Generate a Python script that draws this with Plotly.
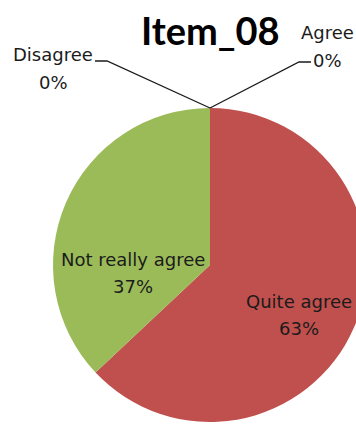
import plotly.graph_objects as go

# Survey answers for Item_08
categories = ["Agree", "Quite agree", "Not really agree", "Disagree"]
counts = [0, 63, 37, 0]
colors = ["#4F81BD", "#C0504D", "#9BBB59", "#8064A2"]
title_text = "Item_08"

total = sum(counts)
percents = [round(c / total * 100) for c in counts]

W, H = 420, 426
M_T, M_B = 108, 4
PLOT_H = H - M_T - M_B


def px(x):
    return x / W


def py(y):
    return (H - M_B - y) / PLOT_H


fig = go.Figure(
    go.Pie(
        labels=categories,
        values=counts,
        sort=False,
        direction="clockwise",
        rotation=0,
        marker=dict(colors=colors, line=dict(width=0)),
        textinfo="none",
        hoverinfo="label+percent",
        domain=dict(x=[0, 1], y=[0, 1]),
    )
)

LABEL_FONT = dict(family="DejaVu Sans", size=18, color="#1b1b1b")

# label anchor positions (centre of the name line, centre of the percent line)
label_pos = {
    "Agree": (327, 32, 60),
    "Quite agree": (299, 301, 328),
    "Not really agree": (133, 259, 286),
    "Disagree": (53, 55, 82),
}

annotations = []
for name, pct in zip(categories, percents):
    x, y1, y2 = label_pos[name]
    annotations.append(dict(x=px(x), y=py(y1), xref="paper", yref="paper",
                            text=name, showarrow=False, font=LABEL_FONT,
                            xanchor="center", yanchor="middle"))
    annotations.append(dict(x=px(x), y=py(y2), xref="paper", yref="paper",
                            text=f"{pct}%", showarrow=False, font=LABEL_FONT,
                            xanchor="center", yanchor="middle"))

annotations.append(dict(x=px(210), y=py(30), xref="paper", yref="paper",
                        text=f"<b>{title_text}</b>", showarrow=False,
                        font=dict(family="Lato", size=38, color="#000000"),
                        xanchor="center", yanchor="middle"))

# leader lines for the zero slices, joining at the top of the pie
top = (210, 108)
leaders = [
    [(95, 61), (107, 61), top],
    [(311, 62), (299, 62), top],
]
shapes = []
for pts in leaders:
    path = "M " + " L ".join(f"{px(x):.4f},{py(y):.4f}" for x, y in pts)
    shapes.append(dict(type="path", path=path, xref="paper", yref="paper",
                       line=dict(color="#1b1b1b", width=1.3)))

fig.update_layout(
    width=W,
    height=H,
    margin=dict(l=0, r=0, t=M_T, b=M_B, pad=0),
    paper_bgcolor="white",
    plot_bgcolor="white",
    showlegend=False,
    annotations=annotations,
    shapes=shapes,
)

fig.write_html(
    "out.html",
    post_script="document.body.style.margin='0';document.body.style.overflow='hidden';"
                "document.documentElement.style.overflow='hidden';",
)
